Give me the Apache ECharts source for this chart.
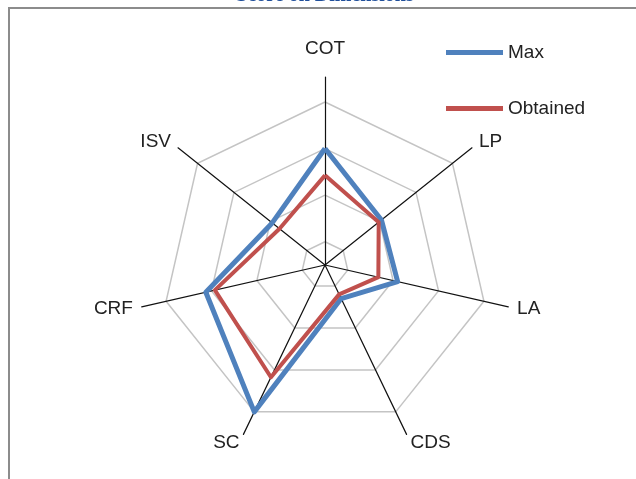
<!DOCTYPE html>
<html>
<head>
<meta charset="utf-8">
<script src="https://cdn.jsdelivr.net/npm/echarts@6/dist/echarts.min.js"></script>
<style>
html,body{margin:0;padding:0;background:#fff}
#chart{width:636px;height:479px}
</style>
</head>
<body>
<div id="chart"></div>
<script>
// dimensions listed clockwise from the top, as in the picture
const dimensions = ['COT', 'LP', 'LA', 'CDS', 'SC', 'CRF', 'ISV'];
const maxValues = [5.0, 3.1, 3.2, 1.6, 7.0, 5.25, 2.9];
const obtainedValues = [3.85, 2.95, 2.35, 1.4, 5.35, 4.85, 2.5];
const seriesNames = ['Max', 'Obtained'];
const scaleMax = 7;

const COLORS = {max: '#4f81bd', obtained: '#c0504d', grid: '#c4c4c4', frame: '#8c8c8c'};

// echarts radar runs counter-clockwise, so flip order (keep first one on top)
const ccw = arr => [arr[0]].concat(arr.slice(1).reverse());

const chart = echarts.init(document.getElementById('chart'));
const indicators = ccw(dimensions).map(d => ({name: d, min: 0, max: scaleMax}));

chart.setOption({
    animation: false,
    backgroundColor: '#fff',
    graphic: [
        {type: 'text', x: 325, y: 6, silent: true,
         style: {text: 'Score on Dimensions', font: 'bold 20px "Liberation Serif"', fill: '#1f4e9a', textAlign: 'center', textVerticalAlign: 'bottom'}},
        {type: 'rect', shape: {x: 9, y: 8, width: 700, height: 600}, style: {fill: '#fff', stroke: COLORS.frame, lineWidth: 2}, silent: true, z: -1}
    ],
    legend: {
        orient: 'vertical', left: 441, top: 38, itemGap: 37,
        itemWidth: 57, itemHeight: 5, icon: 'rect', itemStyle: {borderWidth: 0},
        textStyle: {fontFamily: 'Liberation Sans', fontSize: 19, color: '#222', padding: [0, 0, 0, 0]},
        data: seriesNames
    },
    radar: [
        {   // rings + data
            center: [325, 265], radius: 163, startAngle: 90, shape: 'polygon',
            splitNumber: scaleMax, indicator: indicators,
            axisName: {show: false},
            axisLine: {show: false},
            splitArea: {show: false},
            splitLine: {lineStyle: {color: ['rgba(0,0,0,0)', COLORS.grid], width: 1.5}}
        },
        {   // spokes + category labels
            center: [325, 265], radius: 188, startAngle: 90, shape: 'polygon',
            indicator: indicators, nameGap: 9,
            axisName: {
                color: '#222', fontFamily: 'Liberation Sans', fontSize: 19,
                formatter: (v) => v === 'COT' ? '{top|' + v + '}' : v,
                rich: {top: {fontFamily: 'Liberation Sans', fontSize: 19, color: '#222', padding: [0, 0, 10, 0]}}
            },
            axisLine: {lineStyle: {color: '#111', width: 1.2}},
            splitLine: {show: false},
            splitArea: {show: false}
        }
    ],
    series: [{
        type: 'radar', radarIndex: 0, symbol: 'none',
        data: [
            {name: seriesNames[0], value: ccw(maxValues), itemStyle: {color: COLORS.max}, lineStyle: {color: COLORS.max, width: 5}},
            {name: seriesNames[1], value: ccw(obtainedValues), itemStyle: {color: COLORS.obtained}, lineStyle: {color: COLORS.obtained, width: 4}}
        ]
    }]
});
</script>
</body>
</html>
